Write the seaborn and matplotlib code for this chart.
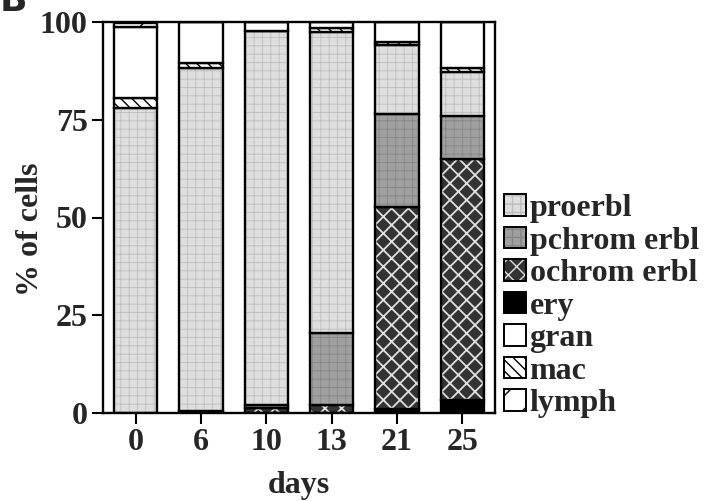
import matplotlib
matplotlib.use("Agg")
import matplotlib.pyplot as plt
import seaborn as sns
import pandas as pd
import numpy as np
from matplotlib.patches import Patch

days = ['0', '6', '10', '13', '21', '25']
ery = [0, 0.5, 0, 0, 1, 3.3]
ochrom = [0, 0, 1.2, 2, 51.7, 61.7]
pchrom = [0, 0, 0.8, 18.5, 23.8, 11]
proerbl = [78, 87.8, 95.7, 77, 17.6, 11.1]
mac = [2.6, 1.3, 0, 1, 0.9, 1.1]
gran = [18.1, 10.4, 2.3, 1.5, 5, 11.8]
lymph = [1, 0, 0, 0, 0, 0]

yticks = [0, 25, 50, 75, 100]

# stacking order from bottom to top
layers = [
    ('ery', ery),
    ('ochrom erbl', ochrom),
    ('pchrom erbl', pchrom),
    ('proerbl', proerbl),
    ('mac', mac),
    ('gran', gran),
    ('lymph', lymph),
]
legend_order = ['proerbl', 'pchrom erbl', 'ochrom erbl', 'ery', 'gran', 'mac', 'lymph']

# style: (facecolor, hatch, hatchcolor, hatch linewidth)
styles = {
    'proerbl': ('#dedede', '++', '#bdbdbd', 0.6),
    'pchrom erbl': ('#a0a0a0', '++', '#858585', 0.6),
    'ochrom erbl': ('#333333', 'xx', '#e0e0e0', 1.3),
    'ery': ('#000000', None, '#000000', 1.0),
    'gran': ('#ffffff', None, '#ffffff', 1.0),
    'mac': ('#ffffff', '\\\\\\', '#000000', 1.0),
    'lymph': ('#ffffff', '/', '#000000', 1.0),
}

sns.set_theme(style='ticks')
plt.rcParams['font.family'] = ['Liberation Serif', 'DejaVu Serif']
plt.rcParams['font.weight'] = 'bold'
plt.rcParams['axes.labelweight'] = 'bold'

fig = plt.figure(figsize=(7.10, 5.01), dpi=100)
ax = fig.add_axes([103/710, 1-413/501, (495-103)/710, (413-22)/501])

width = 0.66
bottom = np.zeros(len(days))
for name, vals in layers:
    vals = np.array(vals, dtype=float)
    df = pd.DataFrame({'day': days, 'pct': vals})
    fc, hatch, hc, hlw = styles[name]
    plt.rcParams['hatch.linewidth'] = hlw
    sns.barplot(data=df, x='day', y='pct', order=days, ax=ax, width=width,
                color=fc, bottom=bottom, facecolor=fc, edgecolor=hc, linewidth=0,
                hatch=hatch, errorbar=None, saturation=1)
    sns.barplot(data=df, x='day', y='pct', order=days, ax=ax, width=width,
                color='white', bottom=bottom, facecolor='none', edgecolor='black',
                linewidth=1.7, errorbar=None, saturation=1)
    bottom = bottom + vals

ax.set_ylim(0, 100)
ax.set_xlim(-0.5, len(days) - 0.5)
ax.set_yticks(yticks)
ax.set_yticklabels([str(t) for t in yticks])
ax.tick_params(axis='both', direction='out', length=8, width=1.5,
               labelsize=23, pad=3, color='black')
for lab in ax.get_xticklabels() + ax.get_yticklabels():
    lab.set_fontweight('bold')
for sp in ax.spines.values():
    sp.set_visible(True)
    sp.set_linewidth(1.7)
    sp.set_color('black')

ax.set_xlabel('days', fontsize=23, fontweight='bold', labelpad=10)
ax.set_ylabel('% of cells', fontsize=23, fontweight='bold')
ax.yaxis.set_label_coords(-0.148, 0.47)

handles = []
for name in legend_order:
    fc, hatch, hc, hlw = styles[name]
    fill = Patch(facecolor=fc, edgecolor=hc, linewidth=0, hatch=hatch)
    outline = Patch(facecolor='none', edgecolor='black', linewidth=1.4)
    handles.append((fill, outline))

leg = fig.legend(handles, legend_order, loc='upper left',
                 bbox_to_anchor=(504/710, 1-194/501), frameon=False,
                 handlelength=0.68, handleheight=0.66,
                 handletextpad=0.12, labelspacing=0.11, borderpad=0,
                 borderaxespad=0, prop={'weight': 'bold', 'size': 23})

fig.text(0.0, 1-11/501, 'B', fontsize=26, fontweight='bold', ha='left',
         va='baseline', family='DejaVu Sans')

fig.savefig('out.png', dpi=100, facecolor='white')
